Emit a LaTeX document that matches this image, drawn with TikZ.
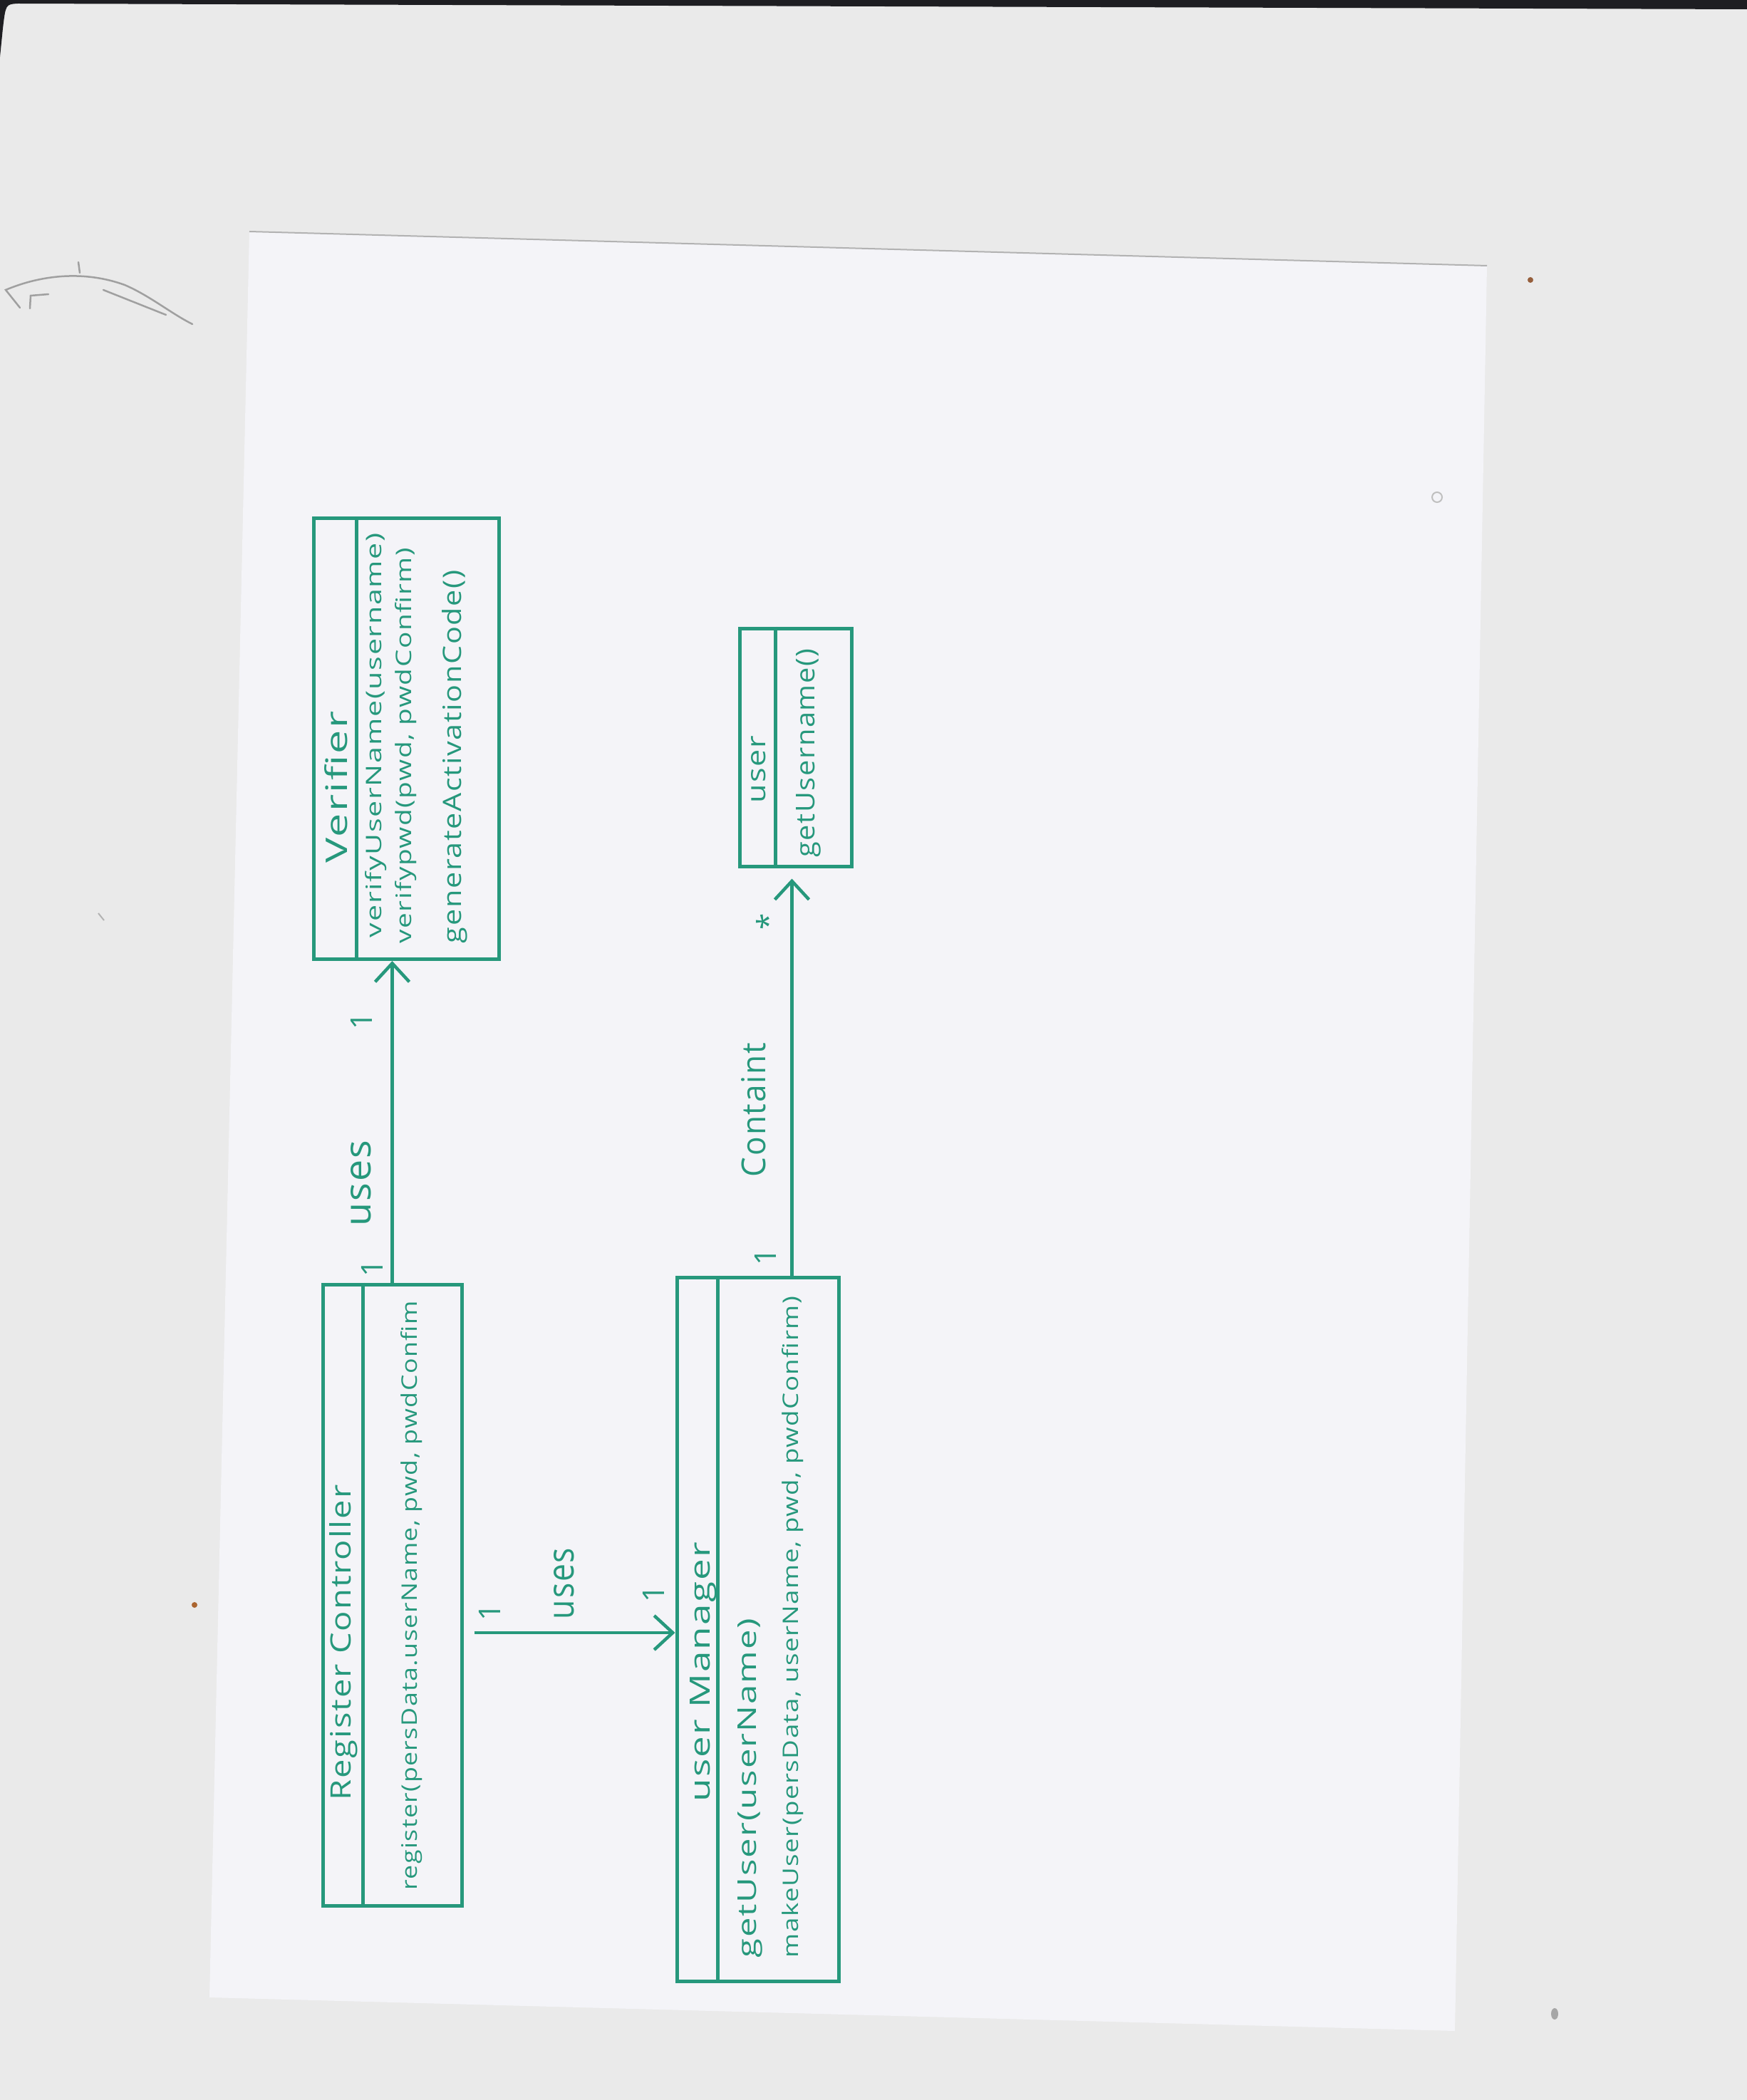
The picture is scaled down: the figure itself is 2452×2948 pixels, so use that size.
\documentclass[tikz,border=0pt]{standalone}
\usepackage{fontspec}
\setmainfont[LetterSpace=4]{Open Sans}
\usetikzlibrary{arrows.meta,calc}

\definecolor{scanbg}{RGB}{234,234,234}
\definecolor{paper}{RGB}{244,244,248}
\definecolor{ink}{RGB}{38,152,124}
\definecolor{lid}{RGB}{30,30,34}
\definecolor{pencil}{RGB}{160,160,160}
\definecolor{speck}{RGB}{150,95,60}

% set a text to a given length (along its reading direction) and letter height
\newcommand{\fitto}[3]{\resizebox{#1}{#2}{#3}}

\begin{document}
\begin{tikzpicture}[x=0.1mm,y=-0.1mm,
  classbox/.style={draw=ink, line width=0.5mm, rectangle, inner sep=0pt},
  divider/.style={draw=ink, line width=0.45mm},
  assoc/.style={draw=ink, line width=0.45mm,
    -{Straight Barb[length=2.6mm,width=4.8mm,line width=0.45mm]}},
  txt/.style={text=ink, inner sep=0pt, rotate=90, anchor=center},
  mult/.style={text=ink, inner sep=0pt, rotate=90, anchor=center,
    font=\fontsize{12pt}{12pt}\selectfont},
  scribble/.style={draw=pencil, line width=0.25mm, line cap=round}]

% scanner bed and sheet
\useasboundingbox (0,0) rectangle (2452,2948);
\fill[scanbg] (0,0) rectangle (2452,2948);
\fill[lid] (0,0) -- (2452,0) -- (2452,13) -- (25,5)
  .. controls (8,6) .. (4,40) -- (0,80) -- cycle;
\fill[paper] (350,325) -- (2087,373) -- (2042,2851) -- (294,2804) -- cycle;
\draw[gray!60, line width=0.2mm] (350,325) -- (2087,373);

% stray pencil marks and specks
\draw[scribble] (28,432) -- (8,407) .. controls (60,385) and (120,380) .. (175,400)
  .. controls (210,415) and (240,440) .. (270,455);
\draw[scribble] (145,407) -- (233,442);
\draw[scribble] (42,433) -- (43,415) -- (68,413);
\draw[scribble] (110,368) -- (112,383);
\fill[speck] (2148,393) circle (4);
\fill[speck!80!orange] (273,2253) circle (4);
\fill[gray!70] (2182,2827) ellipse (5 and 8);
\draw[gray!60, line width=0.2mm] (138,1282) -- (146,1292);
\draw[gray!50, line width=0.2mm] (2017,698) circle (7);

% classes
\node[classbox, minimum width=26mm, minimum height=61.9mm] (ver) at (570,1037) {};
\node[classbox, minimum width=19.5mm, minimum height=87.2mm] (rc) at (550.5,2239) {};
\node[classbox, minimum width=22.7mm, minimum height=98.8mm] (um) at (1063.5,2287) {};
\node[classbox, minimum width=15.7mm, minimum height=33.4mm] (usr) at (1116.5,1049) {};

\draw[divider] ([xshift=6.3mm]ver.north west) -- ([xshift=6.3mm]ver.south west);
\draw[divider] ([xshift=5.9mm]rc.north west) -- ([xshift=5.9mm]rc.south west);
\draw[divider] ([xshift=6.0mm]um.north west) -- ([xshift=6.0mm]um.south west);
\draw[divider] ([xshift=5.3mm]usr.north west) -- ([xshift=5.3mm]usr.south west);

% class names and operations
\node[txt] (verName) at (472,1105) {\fitto{21.3mm}{3.2mm}{Verifier}};
\node[txt] (verOpA) at (528,1032) {\fitto{56.8mm}{2.3mm}{verifyUserName(username)}};
\node[txt] (verOpB) at (570,1047) {\fitto{55.5mm}{2.3mm}{verifypwd(pwd, pwdConfirm)}};
\node[txt] (verOpC) at (638,1062) {\fitto{52.4mm}{2.7mm}{generateActivationCode()}};

\node[txt] (rcName) at (482,2306) {\fitto{44.3mm}{3.0mm}{Register Controller}};
\node[txt] (rcOp) at (578,2240) {\fitto{82.7mm}{2.3mm}{register(persData.userName, pwd, pwdConfim}};

\node[txt] (umName) at (987,2347) {\fitto{36.4mm}{2.8mm}{user Manager}};
\node[txt] (umOpA) at (1053,2510) {\fitto{47.7mm}{2.6mm}{getUser(userName)}};
\node[txt] (umOpB) at (1113,2284) {\fitto{92.8mm}{2.3mm}{makeUser(persData, userName, pwd, pwdConfirm)}};

\node[txt] (usrName) at (1065,1080) {\fitto{9.4mm}{2.0mm}{user}};
\node[txt] (usrOp) at (1135,1057) {\fitto{29.3mm}{2.6mm}{getUsername()}};

% associations
\draw[assoc] (rc.north) -- (rc.north |- ver.south);
\coordinate (rcOut) at ($(rc.east)+(0,53)$);
\draw[assoc, shorten <=1.5mm] (rcOut) -- (rcOut -| um.west);
\coordinate (umOut) at ($(um.north)+(48,0)$);
\draw[assoc, shorten >=1.5mm] (umOut) -- (umOut |- usr.south);

% association labels and multiplicities
\node[txt] (usesA) at (507,1661) {\fitto{12.1mm}{2.8mm}{uses}};
\node[txt] (usesB) at (792,2223) {\fitto{10mm}{2.8mm}{uses}};
\node[txt] (contains) at (1058,1558) {\fitto{18.8mm}{3.4mm}{Containt}};

\node[mult] (mA1) at (522,1780) {1};
\node[mult] (mA2) at (507,1433) {1};
\node[mult] (mB1) at (687,2263) {1};
\node[mult] (mB2) at (917,2237) {1};
\node[mult] (mC1) at (1074,1764) {1};
\node[mult] (mC2) at (1077,1294) {*};

\end{tikzpicture}
\end{document}
